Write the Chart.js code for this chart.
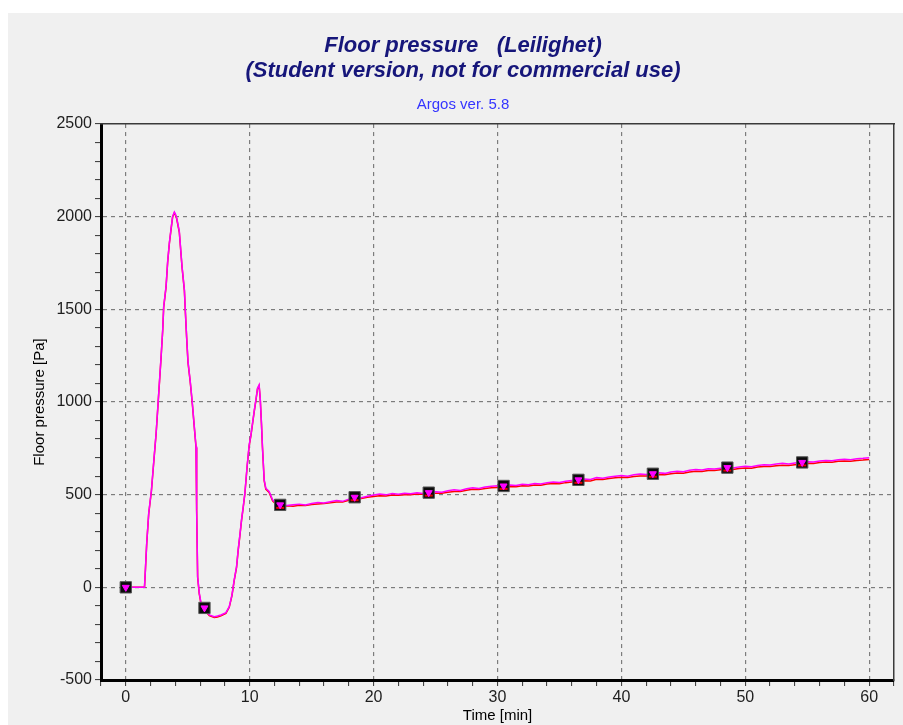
<!DOCTYPE html>
<html lang="en">
<head>
  <meta charset="UTF-8">
  <title>Floor pressure</title>
  <script src="https://cdn.jsdelivr.net/npm/chart.js"></script>
  <style>
    html, body { margin: 0; padding: 0; background: #ffffff; overflow: hidden; }
    #panel {
      position: absolute; left: 8px; top: 13px;
      width: 895px; height: 712px; background: #f0f0f0;
    }
    #pressureChart { display: block; }
  </style>
</head>
<body>
  <div id="panel">
    <canvas id="pressureChart" width="895" height="712"></canvas>
  </div>
  <script>
    // Start of the run: fire, drop, second peak (min / Pa)
    const timeEarly = [0, 0.5, 1, 1.51, 1.59, 1.69, 1.85, 2.07, 2.27, 2.45, 2.58, 2.71, 2.85, 2.98, 3.06,
      3.25, 3.38, 3.52, 3.66, 3.78, 3.92, 4.0, 4.11, 4.32, 4.54, 4.73, 4.81, 4.91, 5.02, 5.19, 5.27,
      5.39, 5.53, 5.67, 5.72, 5.8, 5.93, 6.07, 6.34, 6.5, 6.74, 7.14, 7.4, 7.68, 8.08, 8.35, 8.57,
      8.75, 8.94, 9.07, 9.21, 9.34, 9.48, 9.61, 9.8, 9.96, 10.1, 10.23, 10.36, 10.5, 10.63, 10.76,
      10.85, 10.95, 11.03, 11.17, 11.3, 11.57, 11.85, 12.11];
    const pinkEarly = [0, 0, 0, 0, 105, 240, 400, 525, 690, 834, 968, 1103, 1246, 1390, 1516,
      1624, 1759, 1861, 1939, 2002, 2025, 2015, 1993, 1921, 1732, 1606, 1489, 1354, 1219, 1120, 1066,
      980, 868, 760, 418, 58, -30, -84, -111, -130, -149, -158, -155, -149, -137, -104, -41,
      40, 112, 202, 283, 364, 436, 508, 660, 769, 823, 886, 949, 1012, 1075, 1093,
      1021, 886, 760, 580, 535, 517, 472, 454];
    const redEarly = [0, 0, 0, 0, 100, 236, 396, 520, 686, 830, 963, 1098, 1241, 1386, 1511,
      1620, 1754, 1857, 1934, 1998, 2020, 2010, 1989, 1916, 1727, 1601, 1484, 1349, 1214, 1115, 1061,
      975, 863, 755, 413, 54, -35, -89, -116, -134, -153, -163, -160, -153, -141, -108, -45,
      36, 108, 198, 279, 360, 432, 504, 656, 765, 819, 882, 945, 1008, 1071, 1088,
      1017, 882, 756, 576, 530, 512, 467, 449];

    // Slow build-up after the second peak
    const timeLate = [12.5, 13, 13.5, 14, 14.5, 15, 15.5, 16, 16.5, 17, 17.5, 18, 18.5, 19, 19.5, 20,
      20.5, 21, 21.5, 22, 22.5, 23, 23.5, 24, 24.5, 25, 25.5, 26, 26.5, 27, 27.5, 28, 28.5, 29, 29.5,
      30, 30.5, 31, 31.5, 32, 32.5, 33, 33.5, 34, 34.5, 35, 35.5, 36, 36.5, 37, 37.5, 38, 38.5, 39,
      39.5, 40, 40.5, 41, 41.5, 42, 42.5, 43, 43.5, 44, 44.5, 45, 45.5, 46, 46.5, 47, 47.5, 48, 48.5,
      49, 49.5, 50, 50.5, 51, 51.5, 52, 52.5, 53, 53.5, 54, 54.5, 55, 55.5, 56, 56.5, 57, 57.5, 58,
      58.5, 59, 59.5, 60];
    const pinkLate = [445, 442, 446, 449, 444, 452, 458, 455, 462, 468, 464, 476, 486, 483, 492, 498,
      503, 499, 506, 502, 508, 505, 511, 507, 512, 516, 513, 521, 526, 523, 532, 538, 534, 541, 545,
      548, 546, 552, 549, 556, 553, 560, 558, 565, 569, 566, 573, 577, 580, 585, 582, 592, 589, 596,
      600, 603, 600, 607, 611, 609, 614, 618, 615, 622, 627, 624, 632, 636, 633, 640, 638, 643, 646,
      644, 650, 653, 651, 658, 662, 660, 665, 669, 666, 671, 675, 678, 676, 682, 685, 683, 689, 691,
      689, 694, 696, 699];
    const redLate = [438, 440, 437, 443, 441, 447, 450, 452, 456, 461, 460, 470, 478, 480, 486, 490,
      494, 493, 498, 497, 500, 500, 503, 502, 505, 508, 508, 513, 517, 517, 524, 529, 528, 533, 537,
      539, 540, 543, 543, 548, 547, 552, 551, 557, 560, 559, 565, 568, 571, 575, 574, 583, 582, 587,
      591, 594, 593, 598, 601, 601, 604, 609, 608, 613, 617, 616, 622, 626, 625, 631, 630, 634, 636,
      636, 641, 644, 643, 649, 652, 652, 656, 659, 658, 662, 665, 669, 668, 673, 676, 675, 680, 682,
      681, 685, 687, 690];

    // Logged sample markers
    const markTime = [0, 6.35, 12.46, 18.47, 24.45, 30.49, 36.53, 42.54, 48.55, 54.59];
    const markPink = [0, -111, 445, 486, 511, 547, 580, 613, 646, 674];
    const markRed = [null, null, 429, 470, 495, 531, 564, 597, 630, 658];

    const time = timeEarly.concat(timeLate);
    const pink = pinkEarly.concat(pinkLate);
    const red = redEarly.concat(redLate);

    const toXY = (xs, ys) => xs.map((x, i) => ({ x: x, y: ys[i] }));

    const tickFont = { family: 'Liberation Sans, Arial, sans-serif', size: 16 };
    const labelFont = { family: 'Liberation Sans, Arial, sans-serif', size: 15 };
    const gridGray = '#7c7c7c';
    const clear = 'rgba(0,0,0,0)';

    const ctx = document.getElementById('pressureChart').getContext('2d');
    new Chart(ctx, {
      type: 'line',
      data: {
        datasets: [
          {
            label: 'mark pink',
            data: toXY(markTime, markPink),
            showLine: false,
            pointStyle: 'triangle',
            rotation: 180,
            pointRadius: 4,
            pointBackgroundColor: '#ff00ff',
            pointBorderColor: '#ff00ff',
            pointBorderWidth: 1,
            order: 0
          },
          {
            label: 'mark red',
            data: toXY(markTime, markRed),
            showLine: false,
            pointStyle: 'line',
            pointRadius: 4,
            pointBorderColor: '#e00000',
            pointBorderWidth: 2,
            order: 1
          },
          {
            label: 'mark box',
            data: toXY(markTime, markPink),
            showLine: false,
            pointStyle: 'rect',
            pointRadius: 8,
            pointBackgroundColor: '#0c0c0c',
            pointBorderColor: '#555555',
            pointBorderWidth: 1,
            order: 2
          },
          {
            label: 'Floor pressure',
            data: toXY(time, pink),
            borderColor: '#ff00ff',
            borderWidth: 1.5,
            pointRadius: 0,
            tension: 0,
            order: 3
          },
          {
            label: 'Floor pressure 2',
            data: toXY(time, red),
            borderColor: '#ff0000',
            borderWidth: 1.5,
            pointRadius: 0,
            tension: 0,
            order: 4
          }
        ]
      },
      options: {
        responsive: false,
        animation: false,
        layout: { padding: { left: 22, right: 7, top: 0, bottom: 0 } },
        plugins: {
          legend: { display: false },
          tooltip: { enabled: false },
          title: {
            display: true,
            text: ['Floor pressure   (Leilighet)', '(Student version, not for commercial use)'],
            color: '#16167a',
            font: { family: 'Liberation Sans, Arial, sans-serif', size: 22, weight: 'bold', style: 'italic', lineHeight: 1.16 },
            padding: { top: 20, bottom: 12 }
          },
          subtitle: {
            display: true,
            text: 'Argos ver. 5.8',
            color: '#3434ff',
            font: { family: 'Liberation Sans, Arial, sans-serif', size: 15, lineHeight: 1.2 },
            padding: { top: 0, bottom: 10 }
          }
        },
        scales: {
          x: {
            type: 'linear',
            position: 'bottom',
            min: -2,
            max: 62,
            afterFit: (s) => { s.height = 45; },
            ticks: {
              stepSize: 2,
              autoSkip: false,
              maxRotation: 0,
              padding: 2,
              color: '#1e1e1e',
              font: tickFont,
              callback: (v) => (v % 10 === 0 ? v : '')
            },
            grid: {
              color: (c) => {
                const v = c.tick ? c.tick.value : null;
                return v !== null && v % 10 === 0 && v >= 0 && v <= 60 ? gridGray : clear;
              },
              lineWidth: 1.2,
              tickColor: '#333333',
              tickLength: 6,
              tickWidth: 1
            },
            border: { display: true, color: '#000000', width: 3, dash: [4, 4] },
            title: {
              display: true,
              text: 'Time [min]',
              color: '#000000',
              font: labelFont,
              padding: { top: 0, bottom: 0 }
            }
          },
          y: {
            type: 'linear',
            position: 'left',
            min: -500,
            max: 2500,
            afterFit: (s) => { s.width = 71; },
            ticks: {
              stepSize: 100,
              autoSkip: false,
              padding: 3,
              color: '#1e1e1e',
              font: tickFont,
              callback: (v) => (v % 500 === 0 ? v : '')
            },
            grid: {
              color: (c) => {
                const v = c.tick ? c.tick.value : null;
                return v !== null && v % 500 === 0 && v > -500 && v < 2500 ? gridGray : clear;
              },
              lineWidth: 1.2,
              tickColor: '#333333',
              tickLength: 6,
              tickWidth: 1
            },
            border: { display: true, color: '#000000', width: 3, dash: [4, 4] },
            title: {
              display: true,
              text: 'Floor pressure [Pa]',
              color: '#000000',
              font: labelFont,
              padding: { top: 1, bottom: 0 }
            }
          },
          x2: {
            type: 'linear',
            position: 'top',
            min: -2,
            max: 62,
            afterFit: (s) => { s.height = 0; },
            ticks: { display: false },
            grid: { display: false, drawTicks: false },
            border: { display: true, color: '#3a3a3a', width: 1.5 }
          },
          y2: {
            type: 'linear',
            position: 'right',
            min: -500,
            max: 2500,
            afterFit: (s) => { s.width = 0; },
            ticks: { display: false },
            grid: { display: false, drawTicks: false },
            border: { display: true, color: '#3a3a3a', width: 1.5 }
          }
        }
      }
    });
  </script>
</body>
</html>
